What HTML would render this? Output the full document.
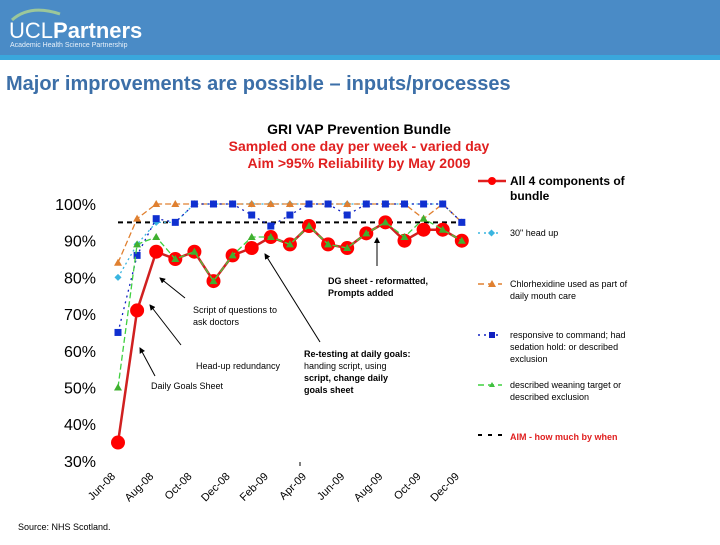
<!DOCTYPE html>
<html><head><meta charset="utf-8"><style>
body{margin:0;width:720px;height:540px;overflow:hidden;background:#fff;font-family:"Liberation Sans",sans-serif}
</style></head><body>
<svg width="720" height="540" xmlns="http://www.w3.org/2000/svg" font-family="Liberation Sans, sans-serif">
<defs><marker id="ah" markerWidth="6" markerHeight="6" refX="5" refY="3" orient="auto"><path d="M0,0 L6,3 L0,6 z" fill="#000"/></marker></defs>
<g>
<rect x="0" y="0" width="720" height="55" fill="#4a8bc6"/>
<rect x="0" y="55" width="720" height="5" fill="#3aa7dc"/>
<path d="M12 20 Q30 4 60 14" stroke="#9cc79a" stroke-width="3" fill="none"/>
<text x="9" y="38" font-size="22" fill="#fff"><tspan font-weight="normal">UCL</tspan><tspan font-weight="bold">Partners</tspan></text>
<text x="10" y="47" font-size="7" fill="#e8f1fa">Academic Health Science Partnership</text>
</g>
<text x="6" y="90" font-size="20" font-weight="bold" fill="#3c6fa8">Major improvements are possible – inputs/processes</text>
<g font-weight="bold" font-size="14" text-anchor="middle">
<text x="359" y="134" fill="#000">GRI VAP Prevention Bundle</text>
<text x="359" y="151" fill="#e02020">Sampled one day per week  - varied day</text>
<text x="359" y="168" fill="#e02020">Aim &gt;95% Reliability by May 2009</text>
</g>
<g id="axes"></g>
<g id="series"></g>
<g font-size="9" fill="#000" stroke="none">
<text x="193" y="313">Script of questions to</text><text x="193" y="325">ask doctors</text>
<text x="196" y="369">Head-up redundancy</text>
<text x="151" y="389">Daily Goals Sheet</text>
<text x="328" y="284" font-weight="bold">DG sheet - reformatted,</text><text x="328" y="296" font-weight="bold">Prompts added</text>
<text x="304" y="357" font-weight="bold">Re-testing at daily goals:</text>
<text x="304" y="369">handing script, using</text>
<text x="304" y="381" font-weight="bold">script, change daily</text>
<text x="304" y="393" font-weight="bold">goals sheet</text>
<g stroke="#000" stroke-width="1" marker-end="url(#ah)">
<line x1="185" y1="298" x2="160" y2="278"/><line x1="181" y1="345" x2="150" y2="305"/>
<line x1="155" y1="376" x2="140" y2="348"/><line x1="320" y1="342" x2="265" y2="254"/>
<line x1="377" y1="266" x2="377" y2="238"/></g>
<line x1="300" y1="462" x2="300" y2="466" stroke="#000"/>
</g>
<text x="18" y="530" font-size="9" fill="#000">Source: NHS Scotland.</text>
<g font-size="9" fill="#000">
<g><line x1="478" y1="181" x2="506" y2="181" stroke="#e02020" stroke-width="2.5"/><circle cx="492" cy="181" r="4" fill="#f00"/><text x="510" y="185" font-size="12" font-weight="bold">All 4 components of</text><text x="510" y="200" font-size="12" font-weight="bold">bundle</text></g>
<g><line x1="478" y1="233" x2="502" y2="233" stroke="#3ab5e0" stroke-width="1.5" stroke-dasharray="2,4"/><rect x="489" y="230.5" width="5" height="5" fill="#3ab5e0" transform="rotate(45 491.5 233)"/><text x="510" y="236">30" head up</text></g>
<g><line x1="478" y1="284" x2="502" y2="284" stroke="#e08030" stroke-width="1.5" stroke-dasharray="6,4"/><polygon points="492,280 496,287 488,287" fill="#e08030"/><text x="510" y="287">Chlorhexidine used as part of</text><text x="510" y="299">daily mouth care</text></g>
<g><line x1="478" y1="335" x2="502" y2="335" stroke="#1020c0" stroke-width="1.5" stroke-dasharray="2,4"/><rect x="489" y="332" width="6" height="6" fill="#1020c0"/><text x="510" y="338">responsive to command; had</text><text x="510" y="350">sedation hold: or described</text><text x="510" y="362">exclusion</text></g>
<g><line x1="478" y1="385" x2="502" y2="385" stroke="#40d040" stroke-width="1.5" stroke-dasharray="6,4"/><polygon points="492,382 495,387 489,387" fill="#40c040"/><text x="510" y="388">described weaning target or</text><text x="510" y="400">described exclusion</text></g>
<g><line x1="478" y1="435" x2="504" y2="435" stroke="#000" stroke-width="2" stroke-dasharray="4,6"/><text x="510" y="440" fill="#e02020" font-weight="bold">AIM - how much by when</text></g>
</g>
</svg>
<script>
const months=["Jun-08","Jul-08","Aug-08","Sep-08","Oct-08","Nov-08","Dec-08","Jan-09","Feb-09","Mar-09","Apr-09","May-09","Jun-09","Jul-09","Aug-09","Sep-09","Oct-09","Nov-09","Dec-09"];
const yTicks=[30,40,50,60,70,80,90,100];
const allFour=[35,71,87,85,87,79,86,88,91,89,94,89,88,92,95,90,93,93,90];
const headUp=[80,89,95,95,100,100,100,100,100,100,100,100,100,100,100,100,100,100,95];
const chlor=[84,96,100,100,100,100,100,100,100,100,100,100,100,100,100,100,96,100,95];
const responsive=[65,86,96,95,100,100,100,97,94,97,100,100,97,100,100,100,100,100,95];
const weaning=[50,89,91,85,87,79,86,91,91,89,94,89,88,92,95,91,96,93,90];
const aim=95;
const NS="http://www.w3.org/2000/svg";
const X=i=>118+i*19.1, Y=v=>204+(100-v)*3.67;
const ax=document.getElementById('axes'), sr=document.getElementById('series');
function mk(t,a,p){const e=document.createElementNS(NS,t);for(const k in a)e.setAttribute(k,a[k]);(p||sr).appendChild(e);return e;}
yTicks.forEach(v=>{const t=mk('text',{x:96,y:Y(v)+6,'font-size':16,'text-anchor':'end',fill:'#000'},ax);t.textContent=v+'%';

});
months.forEach((m,i)=>{if(i%2)return;const x=X(i)-2,y=477;const t=mk('text',{x:x,y:y,'font-size':11,'text-anchor':'end',fill:'#000',transform:`rotate(-45 ${x} ${y})`},ax);t.textContent=m;

});
const aimLine=mk('line',{x1:X(0),x2:X(18),y1:Y(aim),y2:Y(aim),stroke:'#000','stroke-width':2,'stroke-dasharray':'5,4'});


function series(vals,color,w,dash,name,marker){
const g=mk('g',{});


mk('polyline',{points:vals.map((v,i)=>X(i)+','+Y(v)).join(' '),fill:'none',stroke:color,'stroke-width':w,'stroke-dasharray':dash},g);
vals.forEach((v,i)=>{const x=X(i),y=Y(v);let e;
if(marker=='c'){e=mk('circle',{cx:x,cy:y,r:7,fill:'#f00'},g);}
else if(marker=='s'){e=mk('rect',{x:x-3.5,y:y-3.5,width:7,height:7,fill:'#1030d0'},g);}
else if(marker=='d'){e=mk('rect',{x:x-2.5,y:y-2.5,width:5,height:5,fill:'#3ab5e0',transform:`rotate(45 ${x} ${y})`},g);}
else {e=mk('polygon',{points:`${x},${y-4} ${x+4},${y+3} ${x-4},${y+3}`,fill:marker},g);}

});}
series(headUp,'#3ab5e0',1.3,'2,3','series-head-up','d');
series(chlor,'#e08030',1.3,'6,3','series-chlorhexidine','#e08030');
series(responsive,'#1020c0',1.3,'2,4','series-responsive','s');
series(allFour,'#d02020',2.5,'','series-all-four','c');
series(weaning,'#40d040',1.3,'6,3','series-weaning','#40b030');
</script>
</body></html>
